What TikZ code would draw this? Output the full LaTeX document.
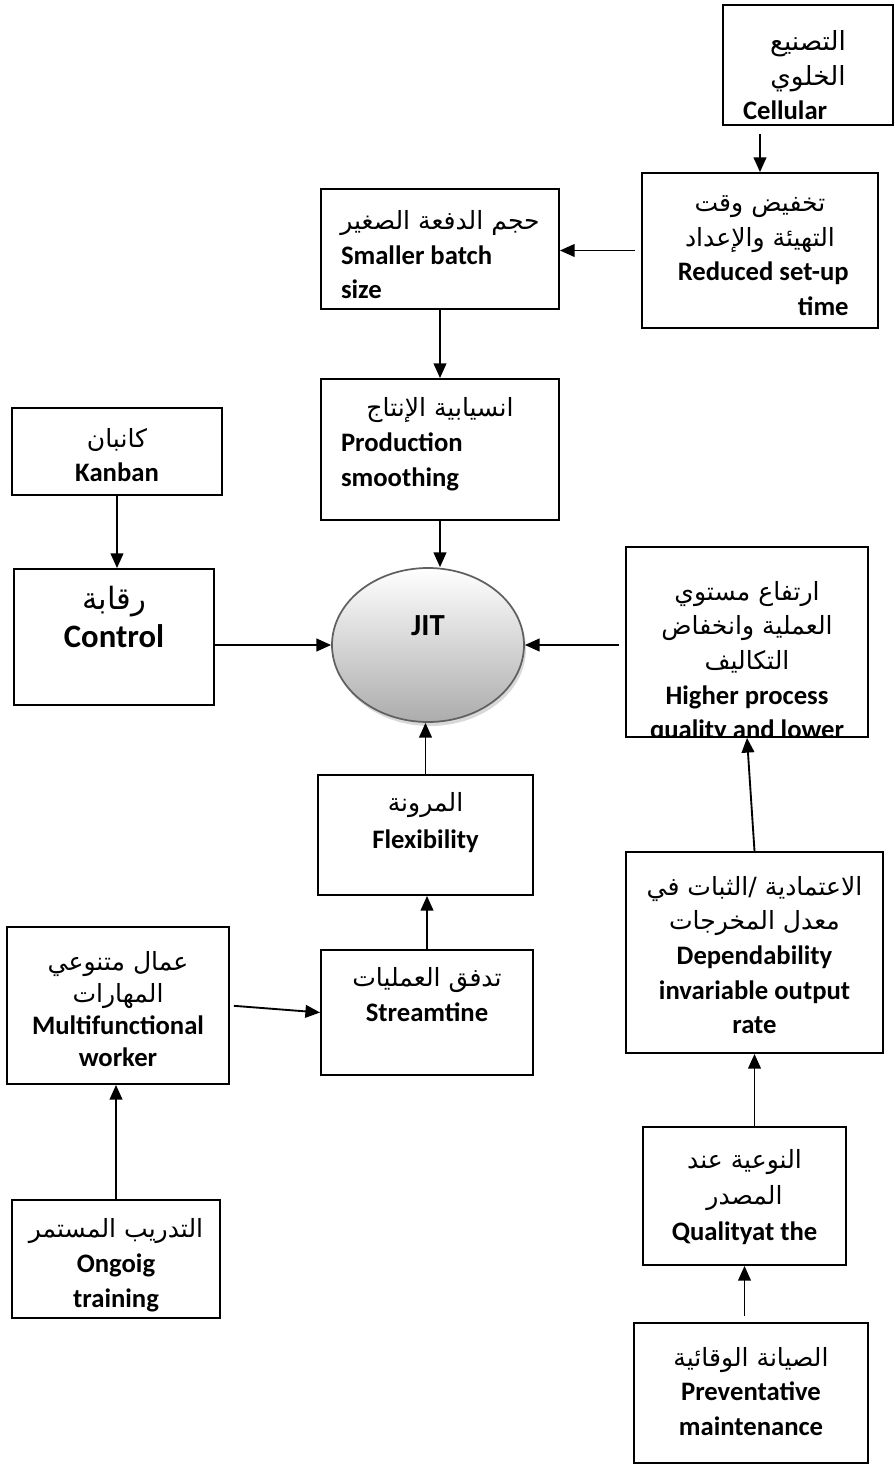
\documentclass[tikz,border=0pt]{standalone}
\usepackage{fontspec}
\setmainfont{Carlito}
\newfontfamily\arabicfont[Script=Arabic,Scale=0.94]{DejaVu Sans}
\TeXXeTstate=1
\usetikzlibrary{shapes.geometric,arrows.meta,shadows,positioning}

\newcommand{\artxt}[1]{{\arabicfont\mdseries\beginR #1\endR}}
\newcommand{\boxlines}[4]{\parbox[c][#2][t]{#1}{\vspace*{#3}\fontsize{20}{26}\selectfont\bfseries #4}}

\begin{document}
\begin{tikzpicture}[x=0.75pt,y=-0.75pt]
    \tikzstyle{block} = [rectangle, draw, line width=1.4pt, inner sep=0pt]
    \tikzstyle{arr} = [-{Triangle[length=11pt,width=9.5pt]}, line width=1.4pt]
    \useasboundingbox (0,0) rectangle (894,1464);

    % top right chain
    \node[block] (cell) at (808,65) {\boxlines{127.5pt}{90pt}{19pt}{{\centering\fontsize{21}{26}\selectfont\artxt{التصنيع}\\\artxt{الخلوي}\par}{\raggedright\leftskip=15pt\relax Cellular\par}}};
    \node[block] (red) at (760,250.5) {\boxlines{177pt}{116.25pt}{17pt}{{\centering\artxt{تخفيض وقت}\\\artxt{التهيئة والإعداد}\par}{\raggedleft\rightskip=22pt\relax Reduced set-up\\time\par}}};
    \node[block] (small) at (440,249) {\boxlines{178.5pt}{90pt}{16pt}{{\centering\artxt{حجم الدفعة الصغير}\par}{\raggedright\leftskip=15pt\relax Smaller batch\\size\par}}};
    \node[block] (prod) at (440,449.5) {\boxlines{178.5pt}{105.75pt}{14pt}{{\centering\artxt{انسيابية الإنتاج}\par}{\raggedright\leftskip=15pt\relax Production\\smoothing\par}}};

    % left side
    \node[block] (kanban) at (117,451.5) {\boxlines{157.5pt}{65.25pt}{15pt}{\centering\artxt{كانبان}\\Kanban}};
    \node[block] (ctrl) at (114,637) {\boxlines{150pt}{102pt}{13pt}{\centering\fontsize{24.5}{28}\selectfont\artxt{رقابة}\\Control}};
    \node[block] (multi) at (118,1005.5) {\boxlines{166.5pt}{117.75pt}{18pt}{\centering\fontsize{20}{24}\selectfont\artxt{عمال متنوعي}\\\artxt{المهارات}\\Multifunctional\\worker}};
    \node[block] (train) at (116,1259) {\boxlines{156pt}{88.5pt}{14pt}{\centering\artxt{التدريب المستمر}\\Ongoig\\training}};

    % centre
    \node[ellipse, draw=gray!75!black, line width=1.3pt, top color=white, bottom color=gray!65, minimum width=144pt, minimum height=115.5pt, inner sep=0pt, drop shadow={shadow xshift=1.5pt, shadow yshift=-3pt, opacity=0.3}, font=\fontsize{23}{28}\selectfont\bfseries, text height=16pt, text depth=30pt] (jit) at (428,645) {JIT};
    \node[block] (flex) at (425.5,835) {\boxlines{161.25pt}{90pt}{13pt}{\centering\fontsize{20}{28}\selectfont\artxt{المرونة}\\Flexibility}};
    \node[block] (stream) at (427,1012.5) {\boxlines{159pt}{93.75pt}{13pt}{\centering\artxt{تدفق العمليات}\\Streamtine}};

    % right side
    \node[block, minimum width=181.5pt, minimum height=142.5pt] (high) at (747,642) {};
    \begin{scope}
        \clip (high.south west) rectangle (high.north east);
        \node[anchor=north, inner sep=0pt] (hightext) at (high.north) {\boxlines{181.5pt}{142.5pt}{26pt}{\centering\artxt{ارتفاع مستوي}\\\artxt{العملية وانخفاض}\\\artxt{التكاليف}\\Higher process\\quality and lower}};
    \end{scope}
    \node[block] (dep) at (754.5,952.5) {\boxlines{192.75pt}{150.75pt}{18pt}{\centering\artxt{الاعتمادية /الثبات في}\\\artxt{معدل المخرجات}\\Dependability\\invariable output\\rate}};
    \node[block] (qual) at (744.5,1196) {\boxlines{152.25pt}{103.5pt}{17pt}{\centering\fontsize{20}{27}\selectfont\artxt{النوعية عند}\\\artxt{المصدر}\\Qualityat the}};
    \node[block] (prev) at (751,1393) {\boxlines{175.5pt}{105pt}{18pt}{\centering\artxt{الصيانة الوقائية}\\Preventative\\maintenance}};

    % connectors
    \draw[arr, shorten <=6pt] (red.north |- cell.south) -- (red.north);
    \draw[arr, shorten <=4.5pt] (red.west) -- (small.east |- red.west);
    \draw[arr] (small) -- (prod);
    \draw[arr] (prod.south) -- (prod.south |- jit.north);
    \draw[arr] (kanban.south) -- (kanban.south |- ctrl.north);
    \draw[arr] (ctrl.east |- jit.west) -- (jit.west);
    \draw[arr, shorten <=4.5pt] (high.west |- jit.east) -- (jit.east);
    \draw[arr] (dep.north) -- (high.south);
    \draw[arr] (dep.south |- qual.north) -- (dep.south);
    \draw[arr, shorten <=4.5pt] (qual.south |- prev.north) -- (qual.south);
    \draw[arr] (flex.north) -- (flex.north |- jit.south);
    \draw[arr] (stream.north) -- (stream.north |- flex.south);
    \draw[arr, shorten <=3pt] (multi.east) -- (stream.west);
    \draw[arr] (train.north) -- (train.north |- multi.south);
\end{tikzpicture}
\end{document}
